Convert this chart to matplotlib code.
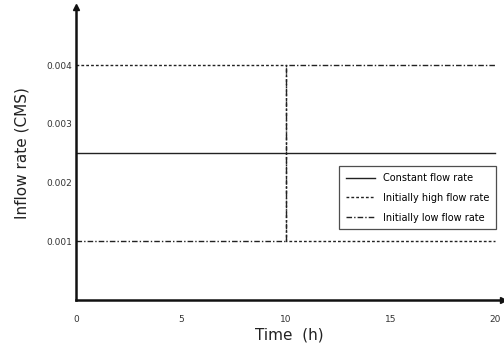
import numpy as np
import matplotlib.pyplot as plt

# step inflow scenarios (time in h, inflow in CMS)
time = [0, 10, 10, 20]
constant_rate = [0.0025, 0.0025, 0.0025, 0.0025]
high_first = [0.004, 0.004, 0.001, 0.001]
low_first = [0.001, 0.001, 0.004, 0.004]

xticks = [0, 5, 10, 15, 20]
yticks = [0.001, 0.002, 0.003, 0.004]

fig = plt.figure(figsize=(5.04, 3.5), dpi=100)
ax = fig.add_axes([76 / 504, 50 / 350, 427 / 504, 293.5 / 350])

ax.plot(time, constant_rate, color='#222222', lw=1.0, label='Constant flow rate')
ax.plot(time, high_first, color='#222222', lw=1.0, linestyle=(0, (2, 1.5)),
        label='Initially high flow rate')
ax.plot(time, low_first, color='#222222', lw=1.0, linestyle=(0, (4, 1.5, 1, 1.5)),
        label='Initially low flow rate')

ax.set_xlim(0, 20.38)
ax.set_ylim(0, 0.005)
for s in ['top', 'right']:
    ax.spines[s].set_visible(False)
for s in ['left', 'bottom']:
    ax.spines[s].set_linewidth(1.8)
    ax.spines[s].set_color('#111111')

# axis arrows
ax.plot(1, 0, '>', color='#111111', ms=5, transform=ax.transAxes, clip_on=False)
ax.plot(0, 1, '^', color='#111111', ms=5, transform=ax.transAxes, clip_on=False)

ax.set_xticks(xticks)
ax.set_xticklabels([str(t) for t in xticks])
ax.set_yticks(yticks)
ax.set_yticklabels(['0.001', '0.002', '0.003', '0.004'])
ax.tick_params(axis='x', length=0, pad=11, labelsize=6.5, labelcolor='#333333')
ax.tick_params(axis='y', length=0, pad=3, labelsize=6.5, labelcolor='#333333')

ax.set_xlabel('Time  (h)', fontsize=11, labelpad=2, color='#222222')
ax.set_ylabel('Inflow rate (CMS)', fontsize=11, labelpad=12, color='#222222')

leg = ax.legend(loc='upper left', bbox_to_anchor=(0.605, 0.472), fontsize=7,
                frameon=True, fancybox=False, edgecolor='#222222',
                handlelength=3.0, borderpad=0.7, labelspacing=1.0)
leg.get_frame().set_linewidth(0.9)

plt.savefig('out.png', dpi=100)
